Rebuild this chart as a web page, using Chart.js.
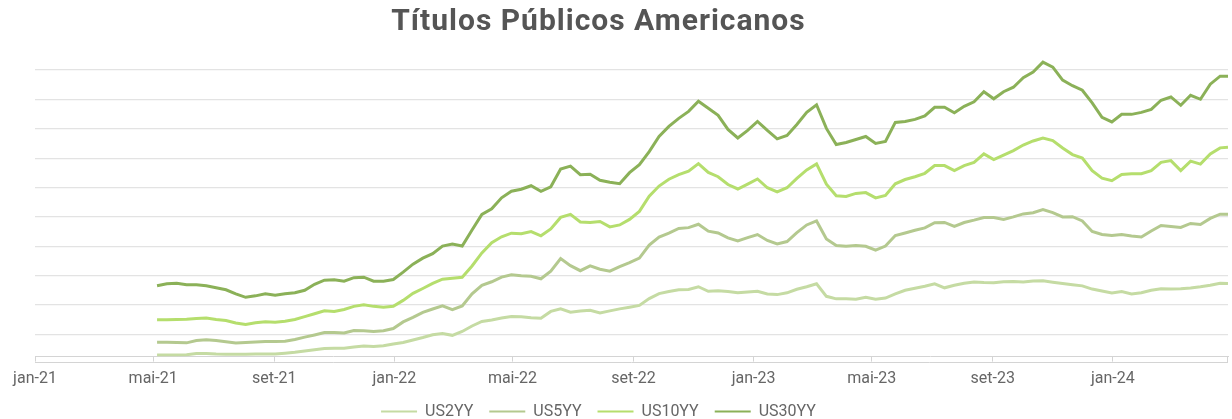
<!DOCTYPE html>
<html lang="pt-BR">
<head>
<meta charset="utf-8">
<title>Títulos Públicos Americanos</title>
<script src="https://cdn.jsdelivr.net/npm/chart.js@4.4.1/dist/chart.umd.min.js"></script>
<style>
  html, body { margin: 0; padding: 0; background: #ffffff; }
  #wrap { width: 1232px; height: 419px; position: relative; }
</style>
</head>
<body>
<div id="wrap"><canvas id="chart"></canvas></div>
<script>
// Observation dates (every 10 days)
const dates = [
  '2021-05-05','2021-05-15','2021-05-25','2021-06-04','2021-06-14','2021-06-24','2021-07-04','2021-07-14','2021-07-24','2021-08-03',
  '2021-08-13','2021-08-23','2021-09-02','2021-09-12','2021-09-22','2021-10-02','2021-10-12','2021-10-22','2021-11-01','2021-11-11',
  '2021-11-21','2021-12-01','2021-12-11','2021-12-21','2021-12-31','2022-01-10','2022-01-20','2022-01-30','2022-02-09','2022-02-19',
  '2022-03-01','2022-03-11','2022-03-21','2022-03-31','2022-04-10','2022-04-20','2022-04-30','2022-05-10','2022-05-20','2022-05-30',
  '2022-06-09','2022-06-19','2022-06-29','2022-07-09','2022-07-19','2022-07-29','2022-08-08','2022-08-18','2022-08-28','2022-09-07',
  '2022-09-17','2022-09-27','2022-10-07','2022-10-17','2022-10-27','2022-11-06','2022-11-16','2022-11-26','2022-12-06','2022-12-16',
  '2022-12-26','2023-01-05','2023-01-15','2023-01-25','2023-02-04','2023-02-14','2023-02-24','2023-03-06','2023-03-16','2023-03-26',
  '2023-04-05','2023-04-15','2023-04-25','2023-05-05','2023-05-15','2023-05-25','2023-06-04','2023-06-14','2023-06-24','2023-07-04',
  '2023-07-14','2023-07-24','2023-08-03','2023-08-13','2023-08-23','2023-09-02','2023-09-12','2023-09-22','2023-10-02','2023-10-12',
  '2023-10-22','2023-11-01','2023-11-11','2023-11-21','2023-12-01','2023-12-11','2023-12-21','2023-12-31','2024-01-10','2024-01-20',
  '2024-01-30','2024-02-09','2024-02-19','2024-02-29','2024-03-10','2024-03-20','2024-03-30','2024-04-09','2024-04-19','2024-04-27'
];

const us2yy = [
  0.152,0.152,0.152,0.157,0.175,0.176,0.169,0.166,0.163,0.166,
  0.169,0.169,0.169,0.183,0.198,0.221,0.240,0.260,0.265,0.267,
  0.289,0.303,0.298,0.308,0.337,0.363,0.406,0.448,0.496,0.517,
  0.486,0.551,0.645,0.722,0.748,0.782,0.808,0.804,0.785,0.777,
  0.893,0.936,0.880,0.902,0.914,0.868,0.902,0.936,0.965,0.996,
  1.111,1.196,1.232,1.261,1.265,1.313,1.235,1.244,1.232,1.210,
  1.224,1.235,1.189,1.179,1.210,1.270,1.313,1.364,1.150,1.107,
  1.107,1.099,1.133,1.099,1.121,1.193,1.253,1.287,1.321,1.364,
  1.295,1.338,1.372,1.395,1.386,1.381,1.398,1.403,1.395,1.410,
  1.413,1.390,1.369,1.347,1.328,1.273,1.239,1.208,1.232,1.191,
  1.210,1.253,1.278,1.273,1.277,1.292,1.313,1.338,1.372,1.367
];

const us5yy = [
  0.368,0.368,0.366,0.358,0.397,0.409,0.397,0.375,0.354,0.363,
  0.371,0.380,0.380,0.387,0.414,0.455,0.493,0.534,0.534,0.525,
  0.568,0.565,0.551,0.563,0.602,0.714,0.791,0.876,0.934,0.987,
  0.922,0.987,1.193,1.338,1.398,1.478,1.518,1.499,1.492,1.449,
  1.578,1.792,1.672,1.586,1.667,1.612,1.578,1.655,1.723,1.800,
  2.023,2.160,2.225,2.305,2.319,2.377,2.259,2.228,2.146,2.091,
  2.148,2.202,2.100,2.043,2.083,2.233,2.365,2.433,2.125,2.014,
  2.002,2.014,2.002,1.937,2.006,2.185,2.228,2.274,2.314,2.403,
  2.408,2.339,2.406,2.447,2.492,2.490,2.459,2.502,2.553,2.574,
  2.625,2.574,2.502,2.505,2.433,2.254,2.202,2.185,2.202,2.177,
  2.160,2.262,2.356,2.339,2.322,2.391,2.373,2.476,2.548,2.548
];

const us10yy = [
  0.751,0.751,0.756,0.761,0.773,0.782,0.756,0.739,0.696,0.671,
  0.700,0.719,0.708,0.726,0.756,0.804,0.854,0.905,0.893,0.927,
  0.979,1.006,0.979,0.962,0.979,1.081,1.201,1.283,1.369,1.441,
  1.458,1.475,1.667,1.889,2.064,2.163,2.225,2.214,2.252,2.180,
  2.296,2.493,2.545,2.416,2.406,2.423,2.331,2.365,2.459,2.596,
  2.853,3.027,3.143,3.220,3.279,3.409,3.258,3.186,3.053,2.977,
  3.061,3.147,2.998,2.926,2.998,3.157,3.301,3.404,3.058,2.861,
  2.851,2.902,2.916,2.825,2.868,3.066,3.138,3.186,3.244,3.375,
  3.375,3.289,3.375,3.431,3.575,3.477,3.554,3.631,3.725,3.794,
  3.845,3.802,3.674,3.563,3.503,3.289,3.161,3.118,3.224,3.238,
  3.238,3.289,3.431,3.460,3.289,3.452,3.400,3.573,3.677,3.688
];

const us30yy = [
  1.330,1.364,1.372,1.347,1.347,1.330,1.295,1.261,1.193,1.133,
  1.158,1.193,1.167,1.193,1.210,1.253,1.355,1.424,1.432,1.407,
  1.467,1.475,1.407,1.407,1.436,1.561,1.697,1.800,1.877,2.006,
  2.040,2.006,2.279,2.545,2.639,2.827,2.938,2.972,3.032,2.938,
  3.015,3.315,3.366,3.220,3.229,3.126,3.092,3.066,3.255,3.392,
  3.614,3.871,4.042,4.179,4.298,4.470,4.350,4.230,3.990,3.845,
  3.973,4.127,3.973,3.831,3.888,4.076,4.281,4.410,4.008,3.734,
  3.768,3.819,3.871,3.751,3.785,4.110,4.127,4.162,4.221,4.367,
  4.367,4.273,4.384,4.461,4.632,4.512,4.632,4.709,4.872,4.966,
  5.137,5.051,4.829,4.735,4.658,4.444,4.196,4.119,4.247,4.247,
  4.281,4.333,4.487,4.543,4.401,4.572,4.504,4.761,4.897,4.897
];

const seriesNames = ['US2YY', 'US5YY', 'US10YY', 'US30YY'];
const seriesColors = ['#c5dba3', '#b4c98f', '#b5de6d', '#8bb158'];

// Axis labels
const tickDates = ['2021-01-01','2021-05-01','2021-09-01','2022-01-01','2022-05-01','2022-09-01','2023-01-01','2023-05-01','2023-09-01','2024-01-01'];
const tickLabels = ['jan-21','mai-21','set-21','jan-22','mai-22','set-22','jan-23','mai-23','set-23','jan-24'];
const axisStart = '2021-01-01';
const axisEnd = '2024-04-27';
const gridValues = [0.5, 1.0, 1.5, 2.0, 2.5, 3.0, 3.5, 4.0, 4.5, 5.0];

const DAY_MS = 86400000;
const origin = Date.parse(axisStart + 'T00:00:00Z');
const dayIndex = s => Math.round((Date.parse(s + 'T00:00:00Z') - origin) / DAY_MS);

const labelByDay = {};
tickDates.forEach((d, i) => { labelByDay[dayIndex(d)] = tickLabels[i]; });

const allSeries = [us2yy, us5yy, us10yy, us30yy];
const datasets = allSeries.map((vals, i) => ({
  label: seriesNames[i],
  data: dates.map((d, j) => ({ x: dayIndex(d), y: vals[j] })),
  borderColor: seriesColors[i],
  backgroundColor: seriesColors[i],
  borderWidth: 3,
  pointRadius: 0,
  pointHoverRadius: 0,
  tension: 0,
  fill: false
}));

// Closes the tick strip under the x axis
const axisStrip = {
  id: 'axisStrip',
  afterDraw(chart) {
    const xs = chart.scales.x;
    const len = xs.options.grid.tickLength;
    const ctx = chart.ctx;
    const yb = Math.round(xs.top + len) + 0.5;
    ctx.save();
    ctx.strokeStyle = '#d4d4d4';
    ctx.lineWidth = 1;
    ctx.beginPath();
    ctx.moveTo(xs.left, yb);
    ctx.lineTo(xs.right, yb);
    ctx.moveTo(Math.round(xs.right) - 0.5, xs.top);
    ctx.lineTo(Math.round(xs.right) - 0.5, yb);
    ctx.stroke();
    ctx.restore();
  }
};

// Header and legend sit slightly left of the plot centre; title letter-spaced
const HEADER_SHIFT = -33;
const LEGEND_LIFT = -8;
const headerPlacement = {
  id: 'headerPlacement',
  afterInit(chart) {
    const wrap = (box, dy, spacing) => {
      if (!box) return;
      const draw = box.draw.bind(box);
      box.draw = function (area) {
        const ctx = chart.ctx;
        ctx.save();
        ctx.translate(HEADER_SHIFT, dy);
        if (spacing) ctx.letterSpacing = spacing;
        draw(area);
        ctx.restore();
      };
    };
    wrap(chart.titleBlock, 0, '1px');
    wrap(chart.legend, LEGEND_LIFT, null);
  }
};

Chart.defaults.font.family = 'Roboto, "Noto Sans", sans-serif';

new Chart(document.getElementById('chart'), {
  type: 'line',
  data: { datasets },
  plugins: [axisStrip, headerPlacement],
  options: {
    responsive: true,
    maintainAspectRatio: false,
    animation: false,
    layout: { padding: { left: 35, right: 4, top: 0, bottom: -18.6 } },
    plugins: {
      title: {
        display: true,
        text: 'Títulos Públicos Americanos',
        color: '#555555',
        font: { size: 30, weight: 'bold' },
        padding: { top: 4, bottom: 12.5 }
      },
      legend: {
        position: 'bottom',
        labels: {
          usePointStyle: true,
          pointStyle: 'line',
          pointStyleWidth: 36,
          color: '#666666',
          font: { size: 16 },
          padding: 16,
          generateLabels(chart) {
            const items = Chart.defaults.plugins.legend.labels.generateLabels(chart);
            items.forEach(it => { it.lineWidth = 2; });
            return items;
          }
        }
      },
      tooltip: { enabled: false }
    },
    scales: {
      x: {
        type: 'linear',
        min: 0,
        max: dayIndex(axisEnd),
        afterBuildTicks: s => { s.ticks = tickDates.map(d => ({ value: dayIndex(d) })); },
        ticks: {
          autoSkip: false,
          maxRotation: 0,
          color: '#666666',
          font: { size: 16 },
          padding: 7.4,
          callback: v => labelByDay[v] || ''
        },
        grid: { drawOnChartArea: false, drawTicks: true, tickLength: 5, color: '#d4d4d4' },
        border: { display: true, color: '#d4d4d4', width: 1 }
      },
      y: {
        type: 'linear',
        min: 0.124,
        max: 5.3,
        afterBuildTicks: s => { s.ticks = gridValues.map(v => ({ value: v })); },
        ticks: { display: false },
        grid: { color: '#e3e3e3', lineWidth: 1.3, drawTicks: false },
        border: { display: false }
      }
    }
  }
});
</script>
</body>
</html>
